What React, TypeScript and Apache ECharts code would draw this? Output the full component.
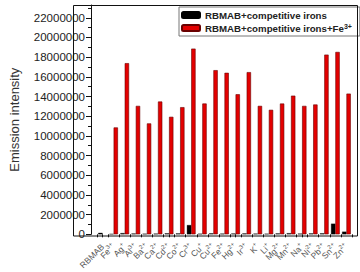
import React, { useEffect, useRef } from "react";
import * as echarts from "echarts";

const categories = [
  "RBMAB", "Fe3+", "Ag+", "Al3+", "Ba2+", "Ca2+", "Cd2+", "Co2+", "Cr3+", "Cu+", "Cu2+",
  "Fe2+", "Hg2+", "Ir3+", "K+", "Li+", "Mg2+", "Mn2+", "Na+", "Ni2+", "Pb2+", "Sn2+", "Zn2+",
];
const blackValues = [
  150000, 50000, 120000, 80000, 60000, 70000, 100000, 90000, 940000, 60000, 100000,
  70000, 80000, 90000, 70000, 60000, 90000, 110000, 70000, 90000, 100000, 1080000, 270000,
];
const redValues = [
  null, 10860000, 17390000, 13050000, 11270000, 13490000, 11940000, 12920000, 18870000, 13290000, 16680000,
  16410000, 14230000, 16480000, 13050000, 12650000, 13290000, 14090000, 13050000, 13190000, 18260000, 18530000, 14300000,
];
const seriesNames = ["RBMAB+competitive irons", "RBMAB+competitive irons+Fe3+"];
const yTickInterval = 2000000;
const yMax = 23300000;

const FONT = "'Liberation Sans', Arial, sans-serif";

function fmtCat(v: string) {
  const m = v.match(/^([A-Za-z]+?)(\d*[+-])$/);
  if (!m) return "{b|" + v + "}";
  return "{b|" + m[1] + "}{s|" + m[2] + "}";
}

export default function App() {
  const ref = useRef<HTMLDivElement>(null);
  useEffect(() => {
    document.body.style.margin = "0";
    const chart = echarts.init(ref.current!, undefined, { renderer: "svg" });
    chart.setOption({
      animation: false,
      backgroundColor: "#fff",
      textStyle: { fontFamily: FONT },
      grid: { left: 79, right: 8, top: 5, bottom: 36, containLabel: false },
      legend: {
        orient: "vertical",
        left: 179,
        top: 7,
        padding: [3, 8, 2, 2],
        itemGap: 3,
        itemWidth: 18,
        itemHeight: 6,
        borderColor: "#777",
        borderWidth: 1,
        data: seriesNames,
        formatter: (n: string) => (n.endsWith("Fe3+") ? n.slice(0, -2) + "{s|3+}" : n),
        textStyle: {
          fontSize: 9.7,
          fontWeight: "bold",
          color: "#222",
          fontFamily: FONT,
          rich: {
            s: { fontSize: 7, fontWeight: "bold", color: "#222", verticalAlign: "top", lineHeight: 10, padding: [0, 0, 4, 0] },
          },
        },
      },
      graphic: [
        {
          type: "rect",
          shape: { x: 73.5, y: 5.5, width: 284, height: 230.5 },
          style: { fill: "none", stroke: "#111", lineWidth: 1 },
          z: 10,
          silent: true,
        },
      ],
      xAxis: [
        {
          type: "category",
          data: categories,
          axisLine: { show: false },
          axisTick: { show: true, inside: false, length: 3, alignWithLabel: false, lineStyle: { color: "#111" } },
          axisLabel: {
            interval: 0,
            rotate: 45,
            margin: 11,
            fontSize: 8,
            color: "#555",
            formatter: fmtCat,
            rich: {
              b: { fontSize: 8.5, color: "#555", fontFamily: FONT },
              s: { fontSize: 6, color: "#555", fontFamily: FONT, padding: [0, 0, 6, 0] },
            },
          },
        },
        {
          type: "category",
          data: categories,
          position: "bottom",
          axisLine: { show: false },
          axisTick: { show: true, inside: false, length: 3, alignWithLabel: true, lineStyle: { color: "#111" } },
          axisLabel: { show: false },
        },
      ],
      yAxis: {
        type: "value",
        min: 0,
        max: yMax,
        interval: yTickInterval,
        offset: 6,
        name: "Emission intensity",
        nameLocation: "middle",
        nameGap: 70,
        nameTextStyle: { fontSize: 13, color: "#333", fontFamily: FONT },
        axisLine: { show: true, lineStyle: { color: "#111" } },
        axisTick: { show: true, inside: false, length: 5, lineStyle: { color: "#111" } },
        minorTick: { show: true, splitNumber: 2, length: 3, lineStyle: { color: "#111" } },
        splitLine: { show: false },
        axisLabel: {
          fontSize: 11.5,
          color: "#222",
          margin: 6,
          showMaxLabel: false,
          formatter: (v: number) => String(Math.round(v)),
        },
      },
      series: [
        {
          name: seriesNames[0],
          type: "bar",
          data: blackValues,
          barGap: "0%",
          barCategoryGap: "22%",
          itemStyle: { color: "#000", borderColor: "#000", borderWidth: 0.3 },
        },
        {
          name: seriesNames[1],
          type: "bar",
          data: redValues,
          barGap: "0%",
          barCategoryGap: "22%",
          itemStyle: { color: "#e30000", borderColor: "#6a0000", borderWidth: 0.6 },
        },
      ],
    });
    return () => chart.dispose();
  }, []);
  return <div ref={ref} style={{ width: 360, height: 272 }} />;
}
